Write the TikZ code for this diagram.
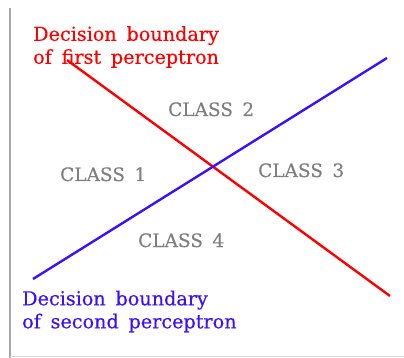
\documentclass[tikz,border=0pt]{standalone}
\usepackage{fontspec}
\setmainfont[WordSpace=1.6, FakeBold=0.4]{DejaVu Serif}
\usetikzlibrary{positioning}

\definecolor{bndRed}{HTML}{FF0000}
\definecolor{bndBlue}{HTML}{3A10FF}
\definecolor{classGray}{HTML}{7F7F80}

\begin{document}
\begin{tikzpicture}[
		x=1pt, y=-1pt,
		% Style for the two boundary lines
		boundary/.style={line width=2.4pt},
		% Text styles
		bndLabel/.style={font=\fontsize{19.2}{23}\selectfont, align=left, anchor=north west, inner sep=0pt},
		classLabel/.style={font=\fontsize{18.5}{20}\selectfont, color=classGray, anchor=base west, inner sep=0pt},
		frame/.style={line width=2pt, color=black!35}
		]
		\useasboundingbox (0,0) rectangle (404,358);

		% ==============================================================================
		% FRAME
		% ==============================================================================
		\coordinate (axTop) at (10,8);
		\coordinate (axCorner) at (10,358);
		\coordinate (axRight) at (404,356);
		\draw[frame] (axTop) -- (axCorner);
		\draw[line width=1pt, black!15] (axCorner |- axRight) -- (axRight);

		% ==============================================================================
		% DECISION BOUNDARIES
		% ==============================================================================
		\coordinate (redStart) at (67,60);
		\coordinate (redEnd) at (390,296);
		\coordinate (blueStart) at (33,279);
		\coordinate (blueEnd) at (387,58);
		\draw[boundary, bndRed] (redStart) -- (redEnd);
		\draw[boundary, bndBlue] (blueStart) -- (blueEnd);

		\node[bndLabel, text=bndRed] (firstLbl) at (33,26) {Decision boundary\\of first perceptron};
		\node[bndLabel, text=bndBlue] (secondLbl) at (22,290.5) {Decision boundary\\of second perceptron};

		% ==============================================================================
		% CLASSES
		% ==============================================================================
		\node[classLabel] (classOne) at (60,181) {CLASS 1};
		\node[classLabel] (classTwo) at (168,116) {CLASS 2};
		\node[classLabel] (classThree) at (258,177) {CLASS 3};
		\node[classLabel] (classFour) at (138,247) {CLASS 4};

	\end{tikzpicture}
\end{document}
